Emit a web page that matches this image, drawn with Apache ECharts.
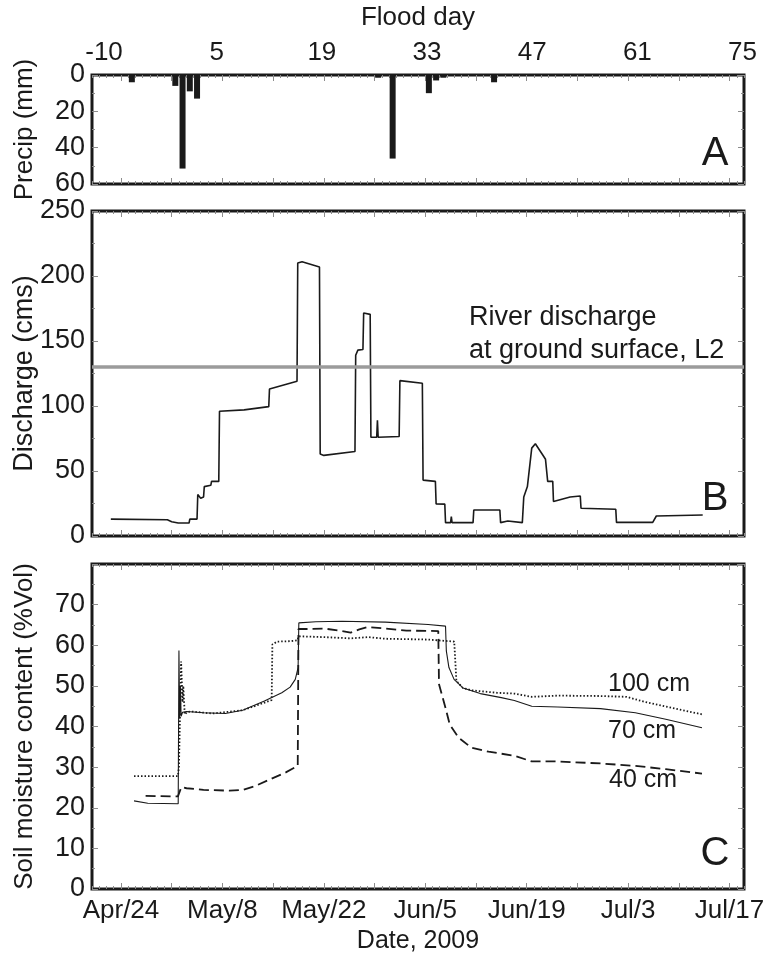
<!DOCTYPE html>
<html>
<head>
<meta charset="utf-8">
<script src="https://cdn.jsdelivr.net/npm/echarts@6/dist/echarts.min.js"></script>
<style>
  html, body { margin: 0; padding: 0; background: #fff; }
  #chart { width: 775px; height: 961px; }
</style>
</head>
<body>
<div id="chart"></div>
<script>
// x values everywhere are days since 2009-04-24 (daily values sit at noon, +0.5)
const dayMin = -4, dayMax = 86;
const majorTickDays = [0, 7, 14, 21, 28, 35, 42, 49, 56, 63, 70, 77, 84];
const dateLabelDays = [0, 14, 28, 42, 56, 70, 84];
const floodDayLabels = [-10, 5, 19, 33, 47, 61, 75];

// A: daily precipitation (mm)
const precipDay = [1.5, 7.5, 8.5, 9.5, 10.5, 35.5, 37.5, 42.5, 43.5, 44.5, 51.5];
const precipMm  = [4, 6, 51.5, 9, 13, 1.5, 46, 10, 3, 1.5, 4];

// B: river discharge (cms)
const dischargeDay = [-1.4, 6.4, 7.0, 7.9, 9.4, 9.5, 10.5, 10.6, 11.0, 11.4, 11.5, 12.4, 12.5, 13.5, 13.6, 17.0, 20.4, 20.5, 24.3, 24.4, 25.0, 27.4, 27.5, 28.0, 32.3, 32.4, 32.7, 33.4, 33.5, 34.4, 34.5, 35.3, 35.4, 35.5, 38.4, 38.5, 41.6, 41.7, 43.4, 43.5, 44.7, 44.8, 45.5, 45.6, 45.7, 48.6, 48.7, 52.3, 52.4, 53.4, 55.4, 55.6, 56.1, 56.7, 57.2, 58.2, 58.6, 58.9, 59.6, 59.7, 62.0, 63.4, 63.5, 68.3, 68.4, 73.4, 73.9, 80.3];
const dischargeCms = [13, 12.5, 11, 10, 10, 13, 13, 32, 29, 30, 38, 39, 42, 42, 96, 97, 99.5, 113, 119, 210, 211, 207, 63, 62, 65, 139, 143, 143.5, 171.5, 170.5, 76, 76, 89, 76, 76.5, 119.5, 117.5, 43, 42, 24.7, 24.5, 10.3, 10.3, 15, 10.3, 10.3, 20, 20, 10.3, 11.5, 10.3, 30, 38, 67.6, 71, 62.5, 59, 42, 42, 26.5, 30, 30.8, 21.3, 20.6, 10.5, 10.5, 15.4, 16.2];
const groundSurfaceCms = 130;

// C: soil moisture content (%Vol) at three depths
const soil100Day = [1.8, 7.86, 8.0, 8.3, 8.5, 8.6, 8.8, 9.1, 9.65, 12.6, 16.8, 20.8, 20.9, 21.56, 23.35, 24.36, 24.54, 28.1, 31.7, 34.1, 36.5, 42.4, 46.0, 46.3, 47.2, 48.4, 51.9, 54.3, 56.7, 60.3, 66.2, 69.8, 72.2, 75.2, 80.2];
const soil100Pct = [27.8, 27.8, 30, 56, 46, 50, 43, 43.5, 43.7, 43.2, 44, 46.5, 60.2, 60.9, 61, 61.2, 62.2, 62, 61.7, 62, 61.6, 61.4, 60.9, 51.2, 49.5, 48.9, 48.3, 48.1, 47.3, 47.6, 47.5, 47.3, 46.1, 44.9, 43];

const soil70Day = [1.8, 3.7, 7.9, 8.0, 8.1, 8.2, 8.3, 8.5, 9.05, 11.4, 14.4, 16.8, 19.8, 22.2, 23.35, 24.06, 24.45, 24.55, 26.9, 30.5, 36.5, 42.4, 44.8, 44.91, 45.27, 45.98, 47.2, 49.6, 52.5, 54.3, 56.7, 60.3, 66.2, 71.0, 75.2, 80.2];
const soil70Pct = [21.7, 21.1, 21.0, 58.7, 42, 50, 42.5, 43.5, 43.7, 43.4, 43.2, 44, 46.3, 48.3, 49.7, 51.6, 54.5, 65.5, 65.8, 65.9, 65.7, 65.1, 64.7, 58.6, 54.5, 51.6, 49.5, 48.1, 47.1, 46.4, 45, 44.8, 44.4, 43.4, 41.8, 39.7];

const soil40Day = [3.4, 7.86, 8.34, 9.05, 11.4, 15.0, 16.8, 18.6, 20.96, 22.75, 24.4, 24.5, 25.7, 28.1, 30.5, 31.7, 32.9, 34.1, 36.5, 39.4, 43.8, 43.9, 44.79, 45.38, 46.58, 48.36, 50.74, 54.3, 56.7, 60.3, 66.2, 71.0, 75.2, 80.2];
const soil40Pct = [22.9, 22.8, 25.1, 24.8, 24.4, 24.2, 24.4, 25.4, 27.3, 28.7, 30.3, 64, 64, 64.1, 63.5, 63.1, 63.9, 64.5, 64.1, 63.6, 63.5, 50.4, 44.6, 40.5, 37.3, 34.8, 33.8, 32.8, 31.4, 31.4, 30.9, 30.3, 29.5, 28.4];

const depthLabels = ['100 cm', '70 cm', '40 cm'];
const panelLetters = ['A', 'B', 'C'];

const FONT = '"Liberation Sans", Arial, Helvetica, sans-serif';
const INK = '#1a1a1a';
const TICK = '#8c8c8c';
const MONTHS = ['Jan','Feb','Mar','Apr','May','Jun','Jul','Aug','Sep','Oct','Nov','Dec'];

function dateLabel(v) {
  const d = new Date(Date.UTC(2009, 3, 24 + Math.round(v)));
  return MONTHS[d.getUTCMonth()] + '/' + d.getUTCDate();
}
function pairs(xs, ys) { return xs.map((x, i) => [x, ys[i]]); }

const grids = [
  { left: 92, right: 31, top: 75, height: 109 },
  { left: 92, right: 31, top: 211, height: 325 },
  { left: 92, right: 31, top: 564, height: 325 }
].map(g => Object.assign(g, {
  show: true, borderColor: INK, borderWidth: 3, backgroundColor: 'transparent',
  containLabel: false, outerBoundsMode: 'none'
}));

const noLine = { show: false, onZero: false };

// per grid: major and daily tick axes on bottom and top edges
const xAxes = [];
function addDateAxes(gi, withLabels) {
  ['bottom', 'top'].forEach(pos => {
    const labelled = withLabels && pos === 'bottom';
    xAxes.push({
      type: 'value', gridIndex: gi, position: pos, min: dayMin, max: dayMax,
      axisLine: noLine, splitLine: { show: false },
      axisTick: { inside: true, length: 6, customValues: majorTickDays, lineStyle: { color: TICK, width: 1 } },
      axisLabel: labelled ? {
        customValues: dateLabelDays, formatter: dateLabel,
        fontSize: 26, fontFamily: FONT, color: INK, margin: 9
      } : { show: false },
      name: labelled ? 'Date, 2009' : '', nameLocation: 'middle', nameGap: 40,
      nameTextStyle: { fontSize: 25, fontFamily: FONT, color: INK }
    });
    xAxes.push({
      type: 'value', gridIndex: gi, position: pos, min: dayMin, max: dayMax, interval: 1,
      axisLine: noLine, splitLine: { show: false },
      axisTick: { inside: true, length: 3, lineStyle: { color: TICK, width: 1 } },
      axisLabel: { show: false }
    });
  });
}
addDateAxes(0, false); // indices 0-3
addDateAxes(1, false); // 4-7
addDateAxes(2, true);  // 8-11
// flood-day scale above panel A
xAxes.push({
  type: 'value', gridIndex: 0, position: 'top', min: -11.6, max: 75.2,
  axisLine: noLine, splitLine: { show: false }, axisTick: { show: false },
  axisLabel: { customValues: floodDayLabels, fontSize: 26, fontFamily: FONT, color: INK, margin: 9 },
  name: 'Flood day', nameLocation: 'middle', nameGap: 44,
  nameTextStyle: { fontSize: 26, fontFamily: FONT, color: INK }
});

const yAxes = [];
function addY(gi, cfg) {
  ['left', 'right'].forEach(pos => {
    yAxes.push({
      type: 'value', gridIndex: gi, position: pos, min: cfg.min, max: cfg.max, interval: cfg.interval,
      inverse: !!cfg.inverse,
      axisLine: noLine, splitLine: { show: false },
      axisTick: { inside: true, length: 6, lineStyle: { color: TICK, width: 1 } },
      minorTick: { show: true, splitNumber: 2, length: 3, lineStyle: { color: TICK, width: 1 } },
      axisLabel: pos === 'left' ? {
        fontSize: 27, fontFamily: FONT, color: INK, margin: 7,
        showMaxLabel: cfg.showMax !== false
      } : { show: false },
      name: pos === 'left' ? cfg.name : '', nameLocation: 'middle', nameGap: 54,
      nameMoveOverlap: false,
      nameTextStyle: { fontSize: cfg.nameSize, fontFamily: FONT, color: INK }
    });
  });
}
addY(0, { min: 0, max: 60, interval: 20, inverse: true, name: 'Precip (mm)', nameSize: 26 });      // 0,1
addY(1, { min: 0, max: 250, interval: 50, name: 'Discharge (cms)', nameSize: 27 });               // 2,3
addY(2, { min: 0, max: 80, interval: 10, showMax: false, name: 'Soil moisture content (%Vol)', nameSize: 26 }); // 4,5

const lineBase = { type: 'line', symbol: 'none', showSymbol: false, animation: false, z: 3 };

const series = [
  {
    type: 'bar', name: 'Precip', xAxisIndex: 0, yAxisIndex: 0,
    data: pairs(precipDay, precipMm), barWidth: 6,
    itemStyle: { color: INK }, animation: false
  },
  Object.assign({}, lineBase, {
    name: 'Discharge', xAxisIndex: 4, yAxisIndex: 2,
    data: pairs(dischargeDay, dischargeCms),
    lineStyle: { color: INK, width: 1.6 },
    markLine: {
      silent: true, symbol: 'none', animation: false,
      label: { show: false },
      lineStyle: { color: '#9b9b9b', width: 3.5, type: 'solid' },
      data: [{ yAxis: groundSurfaceCms }]
    }
  }),
  Object.assign({}, lineBase, {
    name: depthLabels[0], xAxisIndex: 8, yAxisIndex: 4,
    data: pairs(soil100Day, soil100Pct),
    lineStyle: { color: INK, width: 1.8, type: [1.5, 2] }
  }),
  Object.assign({}, lineBase, {
    name: depthLabels[1], xAxisIndex: 8, yAxisIndex: 4,
    data: pairs(soil70Day, soil70Pct),
    lineStyle: { color: INK, width: 1.1 }
  }),
  Object.assign({}, lineBase, {
    name: depthLabels[2], xAxisIndex: 8, yAxisIndex: 4,
    data: pairs(soil40Day, soil40Pct),
    lineStyle: { color: INK, width: 1.8, type: [10, 5] }
  })
];

function txt(text, x, y, size, align) {
  return {
    type: 'text', x: x, y: y, z: 10,
    style: { text: text, font: size + 'px ' + FONT, fill: INK, textAlign: align || 'left', textVerticalAlign: 'middle' }
  };
}

const graphics = [
  txt(panelLetters[0], 715, 154, 40, 'center'),
  txt(panelLetters[1], 715, 499, 40, 'center'),
  txt(panelLetters[2], 715, 854, 40, 'center'),
  txt('River discharge', 469, 318, 27),
  txt('at ground surface, L2', 469, 351, 27),
  txt(depthLabels[0], 608, 684, 25),
  txt(depthLabels[1], 608, 731, 25),
  txt(depthLabels[2], 609, 780, 25)
];

const chart = echarts.init(document.getElementById('chart'), null, { renderer: 'canvas' });
chart.setOption({
  animation: false,
  backgroundColor: '#ffffff',
  grid: grids,
  xAxis: xAxes,
  yAxis: yAxes,
  series: series,
  graphic: graphics
});
</script>
</body>
</html>
